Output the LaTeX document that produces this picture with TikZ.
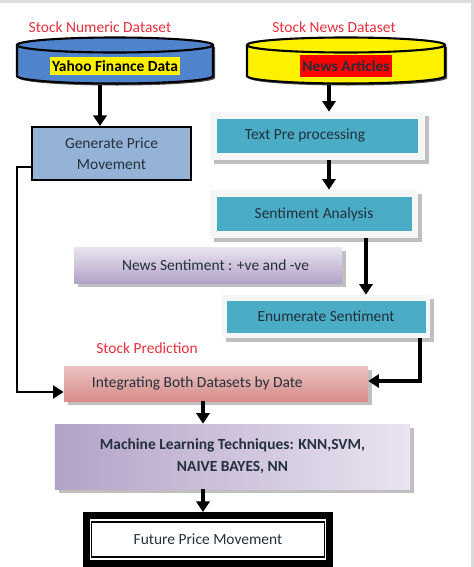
\documentclass[tikz,border=0pt]{standalone}
\usepackage{fontspec}
\setmainfont{Carlito}
\usetikzlibrary{positioning,arrows.meta,calc,shadows}
\definecolor{cylBlue}{HTML}{4F83CC}
\definecolor{genBlue}{HTML}{95B3D7}
\definecolor{tealFill}{HTML}{4BACC6}
\definecolor{frameGray}{HTML}{F4F6F7}
\definecolor{lavDark}{HTML}{B3A2C7}
\definecolor{lavLight}{HTML}{E9E4F0}
\definecolor{pinkDark}{HTML}{D68C8A}
\definecolor{pinkLight}{HTML}{EBC3C2}
\definecolor{titleRed}{HTML}{E8303C}
\definecolor{textDark}{HTML}{24303C}

\begin{document}
\begin{tikzpicture}[
    font=\fontsize{8.8}{12}\selectfont,
    flow/.style={-{Triangle[width=7.5pt,length=6pt]}, line width=1.8pt},
    heading/.style={text=titleRed},
    outerbox/.style={fill=frameGray, inner sep=0pt,
      drop shadow={shadow xshift=2pt, shadow yshift=-2pt, fill=gray!50, opacity=1}},
    tealbox/.style={fill=tealFill, text=textDark, inner sep=0pt},
    lavbox/.style={top color=lavLight, bottom color=lavDark, text=textDark, inner sep=0pt,
      drop shadow={shadow xshift=2pt, shadow yshift=-2pt, fill=gray!50, opacity=1}}
  ]
  \useasboundingbox (0,0) rectangle (9.48,-11.34);
  \fill[gray!25] (0,0) rectangle (9.48,-0.05);
  \fill[gray!30] (9.42,0) rectangle (9.48,-11.34);

  % datasets
  \node[heading] (numTitle) at (2.00,-0.54) {Stock Numeric Dataset};
  \node[heading] (newsTitle) at (6.68,-0.54) {Stock News Dataset};
  \fill[black!70] (0.38,-0.94) -- (0.38,-1.56)
    arc[start angle=180, end angle=360, x radius=1.96, y radius=0.15] -- (4.30,-0.94);
  \draw[line width=1.2pt, fill=cylBlue] (0.34,-0.90) -- (0.34,-1.52)
    arc[start angle=180, end angle=360, x radius=1.96, y radius=0.15] -- (4.26,-0.90);
  \draw[line width=1.2pt, fill=cylBlue] (2.30,-0.90) ellipse[x radius=1.96, y radius=0.15];
  \node[fill=yellow, inner xsep=1pt, inner ysep=2pt, font=\fontsize{8.8}{12}\selectfont\bfseries] (yahoo) at (2.30,-1.32) {Yahoo Finance Data};
  \fill[black!70] (4.98,-0.94) -- (4.98,-1.56)
    arc[start angle=180, end angle=360, x radius=1.98, y radius=0.15] -- (8.94,-0.94);
  \draw[line width=1.2pt, fill=yellow] (4.94,-0.90) -- (4.94,-1.52)
    arc[start angle=180, end angle=360, x radius=1.98, y radius=0.15] -- (8.90,-0.90);
  \draw[line width=1.2pt, fill=yellow] (6.92,-0.90) ellipse[x radius=1.98, y radius=0.15];
  \node[fill=red, text=textDark, inner xsep=1.5pt, inner ysep=3pt, font=\fontsize{8.8}{12}\selectfont\bfseries] (articles) at (6.92,-1.32) {News Articles};
  \coordinate (yahooBase) at (2.00,-1.70);
  \coordinate (newsBase) at (6.58,-1.70);

  % price branch
  \node[draw, line width=1.1pt, fill=genBlue, text=textDark, align=center,
    minimum width=3.18cm, minimum height=1.06cm] (gen) at (2.23,-3.07) {Generate Price\\Movement};

  % news branch
  \node[outerbox, minimum width=4.30cm, minimum height=0.96cm] (prep) at (6.35,-2.72) {};
  \node[tealbox, minimum width=4.02cm, minimum height=0.68cm] (prepText) at (prep) {\hspace*{-0.5cm}Text Pre processing};
  \node[outerbox, minimum width=4.16cm, minimum height=0.96cm] (senti) at (6.28,-4.28) {};
  \node[tealbox, minimum width=3.90cm, minimum height=0.68cm] (sentiText) at (senti) {Sentiment Analysis};
  \node[lavbox, minimum width=5.36cm, minimum height=0.72cm] (polarity) at (4.16,-5.30) {\hspace*{0.3cm}News Sentiment : +ve and -ve};
  \node[outerbox, minimum width=4.16cm, minimum height=0.86cm] (enum) at (6.52,-6.33) {};
  \node[tealbox, minimum width=3.98cm, minimum height=0.64cm] (enumText) at (enum) {Enumerate Sentiment};

  % prediction
  \node[heading] (predTitle) at (2.94,-6.96) {Stock Prediction};
  \node[top color=pinkLight, bottom color=pinkDark, text=textDark, inner sep=0pt,
    drop shadow={shadow xshift=2pt, shadow yshift=-2pt, fill=gray!50, opacity=1},
    minimum width=6.08cm, minimum height=0.70cm] (integ) at (4.32,-7.67) {\hspace*{-0.75cm}Integrating Both Datasets by Date};
  \node[lavbox, left color=lavDark, right color=lavLight, align=center,
    font=\fontsize{8.8}{12.5}\selectfont\bfseries,
    minimum width=7.10cm, minimum height=1.30cm] (ml) at (4.65,-9.13) {Machine Learning Techniques: KNN,SVM,\\NAIVE BAYES, NN};
  \node[draw, line width=0.14cm, inner sep=0pt, minimum width=4.86cm, minimum height=0.96cm] (future) at (4.16,-10.79) {};
  \node[draw, line width=0.8pt, text=textDark, inner sep=0pt,
    minimum width=4.66cm, minimum height=0.70cm] (futureText) at (future) {Future Price Movement};

  % connectors
  \draw[flow] (yahooBase) -- (yahooBase |- gen.north);
  \draw[flow] (newsBase) -- (newsBase |- prep.north);
  \draw[flow] (newsBase |- prep.south) -- (newsBase |- senti.north);
  \draw[flow] ([xshift=1.04cm]senti.south) -- ([xshift=1.04cm]senti.south |- enum.north);
  \draw[flow] ([xshift=1.88cm]enum.south) |- (integ.east |- 0,-7.62);
  \draw[flow, line width=0.8pt, -{Triangle[width=7.5pt,length=6pt]}] (gen.west |- 0,-3.34) -| (0.34,-7.84) -- (integ.west |- 0,-7.84);
  \draw[flow] ([xshift=-0.26cm]integ.south) -- ([xshift=-0.26cm]integ.south |- ml.north);
  \draw[flow] ([xshift=-0.26cm]integ.south |- ml.south) -- ([xshift=-0.26cm]integ.south |- future.north);
\end{tikzpicture}
\end{document}
